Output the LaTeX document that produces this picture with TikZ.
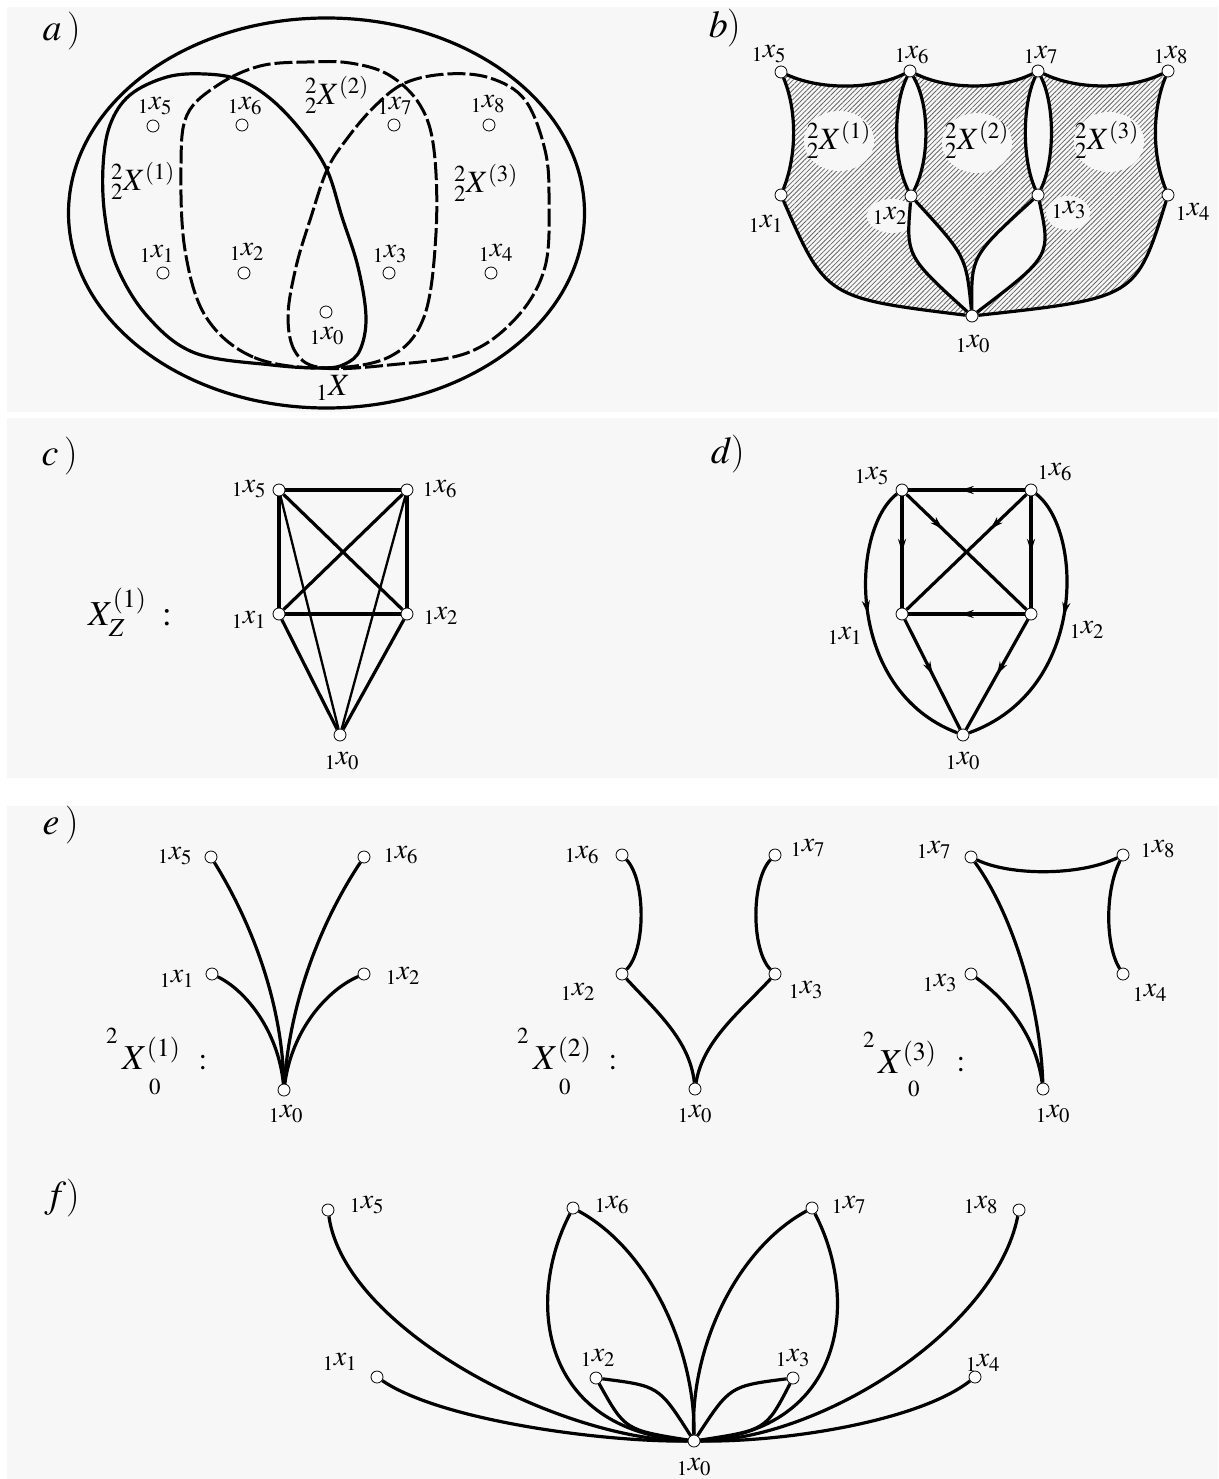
\documentclass[tikz,border=0pt]{standalone}
\usepackage{mathptmx}
\usepackage{amsmath}
\usetikzlibrary{patterns.meta,arrows.meta,decorations.markings}
\definecolor{bg}{HTML}{F7F7F7}
\pgfdeclarelayer{back}
\pgfdeclarelayer{mid}
\pgfsetlayers{back,mid,main}
\tikzset{
  vtx/.style={circle,draw,fill=white,inner sep=0pt,minimum size=12pt,line width=0.8pt},
  thk/.style={line width=3.2pt},
  thn/.style={line width=2.3pt},
  dsh/.style={line width=3pt,dash pattern=on 18pt off 4pt},
  lbl/.style={inner sep=0pt,font=\fontsize{28}{30}\selectfont},
  big/.style={inner sep=0pt,font=\fontsize{31}{33}\selectfont},
  huge/.style={inner sep=0pt,font=\fontsize{35}{37}\selectfont},
  plab/.style={inner sep=0pt,font=\fontsize{38}{40}\selectfont},
  arr/.style={postaction={decorate},decoration={markings,mark=at position #1 with {\arrow{Stealth[length=13pt,width=8pt]}}}},
  arr/.default=0.55,
  blob/.style={fill=bg}
}
\begin{document}
\begin{tikzpicture}[x=1pt,y=-1pt]
\begin{pgfonlayer}{back}
\fill[white] (0,0) rectangle (1218,1479);
\fill[bg] (7,7) rectangle (1218,412);
\fill[bg] (7,418) rectangle (1218,778);
\fill[bg] (7,806) rectangle (1218,1479);
\end{pgfonlayer}
\useasboundingbox (0,0) rectangle (1218,1479);

% ---------------- panel a ----------------
\node[plab] (pa) at (62,31) {$a$\,)};
\draw[thk] (326.5,213) ellipse [x radius=258pt, y radius=195pt];
\draw[thk] plot[smooth cycle, tension=0.6] coordinates {(323,368) (272,365) (195,353) (148,317) (117,267) (105,217) (103,167) (110,125) (130,95) (167,77) (205,74) (240,80) (272,100) (303,133) (327,170) (342,217) (358,267) (366,317) (360,350) (345,364)};
\draw[dsh] plot[smooth cycle, tension=0.6] coordinates {(323,368) (253,357) (206,317) (185,250) (181,167) (187,115) (218,85) (260,66) (307,62) (350,63) (389,75) (420,105) (434,150) (436,233) (424,317) (389,357)};
\draw[dsh] plot[smooth cycle, tension=0.6] coordinates {(323,368) (296,353) (288,317) (296,267) (311,217) (327,170) (346,140) (374,107) (405,83) (447,74) (490,78) (525,100) (545,150) (549,200) (545,267) (517,317) (467,353) (389,365)};
\node[vtx] (a5) at (153,126) {};
\node[vtx] (a6) at (242,125) {};
\node[vtx] (a7) at (394,125) {};
\node[vtx] (a8) at (489,125) {};
\node[vtx] (a1) at (163,273) {};
\node[vtx] (a2) at (244,273) {};
\node[vtx] (a3) at (389,273) {};
\node[vtx] (a4) at (491,273) {};
\node[vtx] (a0) at (326,312) {};
\node[lbl] (ta5) at (155,106) {${}_1x_5$};
\node[lbl] (ta6) at (245,106) {${}_1x_6$};
\node[lbl] (ta7) at (395,106) {${}_1x_7$};
\node[lbl] (ta8) at (488,104) {${}_1x_8$};
\node[lbl] (ta1) at (157,254) {${}_1x_1$};
\node[lbl] (ta2) at (247,252) {${}_1x_2$};
\node[lbl] (ta3) at (390,254) {${}_1x_3$};
\node[lbl] (ta4) at (496,253) {${}_1x_4$};
\node[lbl] (ta0) at (327,336) {${}_1x_0$};
\node[big] (tX1) at (143,181) {${}^2_2X^{(1)}$};
\node[big] (tX2) at (337,95) {${}^2_2X^{(2)}$};
\node[big] (tX3) at (486,183) {${}^2_2X^{(3)}$};
\node[big] (tX) at (333,388) {${}_1X$};

% ---------------- panel b ----------------
\node[plab] (pb) at (725,28) {$b$)};
\node[vtx] (b5) at (781,72) {};
\node[vtx] (b6) at (910,71) {};
\node[vtx] (b7) at (1038,71) {};
\node[vtx] (b8) at (1168,71) {};
\node[vtx] (b1) at (781,195) {};
\node[vtx] (b2) at (911,196) {};
\node[vtx] (b3) at (1038,195) {};
\node[vtx] (b4) at (1168,195) {};
\node[vtx] (b0) at (972,316) {};
\begin{pgfonlayer}{mid}
\fill[pattern={Lines[angle=45,distance=3.4pt,line width=0.8pt]},pattern color=black!60,even odd rule]
  (b5.center) .. controls (820,90) and (872,90) .. (b6.center) .. controls (948,90) and (1000,90) .. (b7.center)
  .. controls (1077,90) and (1129,90) .. (b8.center) .. controls (1152,110) and (1152,155) .. (b4.center)
  .. controls (1136,298) .. (b0.center) .. controls (826,298) .. (b1.center)
  .. controls (797,155) and (797,110) .. (b5.center) -- cycle
  (b6.center) .. controls (893,105) and (893,160) .. (b2.center) .. controls (930,160) and (930,105) .. (b6.center) -- cycle
  (b7.center) .. controls (1022,105) and (1022,160) .. (b3.center) .. controls (1055,160) and (1055,105) .. (b7.center) -- cycle
  (b2.center) .. controls (906,256) .. (b0.center) .. controls (966,256) .. (b2.center) -- cycle
  (b3.center) .. controls (971,256) .. (b0.center) .. controls (1051,256) .. (b3.center) -- cycle;
\fill[blob] (839,141) ellipse [x radius=35pt, y radius=30pt];
\fill[blob] (977,143) ellipse [x radius=35pt, y radius=30pt];
\fill[blob] (1109,142) ellipse [x radius=35pt, y radius=30pt];
\fill[blob] (892,216) ellipse [x radius=25pt, y radius=17pt];
\fill[blob] (1068,213) ellipse [x radius=22pt, y radius=17pt];
\end{pgfonlayer}
\draw[thk] (b5) .. controls (820,90) and (872,90) .. (b6);
\draw[thk] (b6) .. controls (948,90) and (1000,90) .. (b7);
\draw[thk] (b7) .. controls (1077,90) and (1129,90) .. (b8);
\draw[thk] (b8) .. controls (1152,110) and (1152,155) .. (b4);
\draw[thk] (b4) .. controls (1136,298) .. (b0);
\draw[thk] (b0) .. controls (826,298) .. (b1);
\draw[thk] (b1) .. controls (797,155) and (797,110) .. (b5);
\draw[thk] (b6) .. controls (893,105) and (893,160) .. (b2);
\draw[thk] (b6) .. controls (930,105) and (930,160) .. (b2);
\draw[thk] (b7) .. controls (1022,105) and (1022,160) .. (b3);
\draw[thk] (b7) .. controls (1055,105) and (1055,160) .. (b3);
\draw[thk] (b2) .. controls (906,256) .. (b0);
\draw[thk] (b2) .. controls (966,256) .. (b0);
\draw[thk] (b3) .. controls (971,256) .. (b0);
\draw[thk] (b3) .. controls (1051,256) .. (b0);
\node[lbl] (tb5) at (769,54) {${}_1x_5$};
\node[lbl] (tb6) at (912,55) {${}_1x_6$};
\node[lbl] (tb7) at (1041,55) {${}_1x_7$};
\node[lbl] (tb8) at (1171,55) {${}_1x_8$};
\node[lbl] (tb1) at (766,224) {${}_1x_1$};
\node[lbl] (tb2) at (890,216) {${}_1x_2$};
\node[lbl] (tb3) at (1069,210) {${}_1x_3$};
\node[lbl] (tb4) at (1193,212) {${}_1x_4$};
\node[lbl] (tb0) at (973,344) {${}_1x_0$};
\node[big] (tbX1) at (839,140) {${}^2_2X^{(1)}$};
\node[big] (tbX2) at (977,140) {${}^2_2X^{(2)}$};
\node[big] (tbX3) at (1107,140) {${}^2_2X^{(3)}$};

% ---------------- panel c ----------------
\node[plab] (pc) at (60,456) {$c$\,)};
\node[vtx] (c5) at (279,490) {};
\node[vtx] (c6) at (407,490) {};
\node[vtx] (c1) at (279,614) {};
\node[vtx] (c2) at (407,614) {};
\node[vtx] (c0) at (340,735) {};
\draw[thk] (c5) -- (c6);
\draw[thk] (c5) -- (c1);
\draw[thk] (c6) -- (c2);
\draw[thk] (c1) -- (c2);
\draw[thk] (c5) -- (c2);
\draw[thk] (c6) -- (c1);
\draw[thk] (c1) -- (c0);
\draw[thk] (c2) -- (c0);
\draw[thn] (c5) -- (c0);
\draw[thn] (c6) -- (c0);
\node[lbl] (tc5) at (249,489) {${}_1x_5$};
\node[lbl] (tc6) at (440,489) {${}_1x_6$};
\node[lbl] (tc1) at (249,620) {${}_1x_1$};
\node[lbl] (tc2) at (441,616) {${}_1x_2$};
\node[lbl] (tc0) at (342,761) {${}_1x_0$};
\node[huge] (tcX) at (130,612) {$X_Z^{(1)}\;:$};

% ---------------- panel d ----------------
\node[plab] (pd) at (728,454) {$d$)};
\node[vtx] (d5) at (902,490) {};
\node[vtx] (d6) at (1031,490) {};
\node[vtx] (d1) at (902,614) {};
\node[vtx] (d2) at (1031,614) {};
\node[vtx] (d0) at (963,735) {};
\draw[thk,arr=0.55] (d6) -- (d5);
\draw[thk,arr=0.55] (d2) -- (d1);
\draw[thk,arr=0.5] (d5) -- (d1);
\draw[thk,arr=0.5] (d6) -- (d2);
\draw[thk,arr=0.3] (d5) -- (d2);
\draw[thk,arr=0.3] (d6) -- (d1);
\draw[thk,arr=0.5] (d1) -- (d0);
\draw[thk,arr=0.5] (d2) -- (d0);
\draw[thk,arr=0.45] (d5) .. controls (850,530) and (845,690) .. (d0);
\draw[thk,arr=0.45] (d6) .. controls (1083,530) and (1088,690) .. (d0);
\node[lbl] (td5) at (872,476) {${}_1x_5$};
\node[lbl] (td6) at (1055,472) {${}_1x_6$};
\node[lbl] (td1) at (845,636) {${}_1x_1$};
\node[lbl] (td2) at (1087,630) {${}_1x_2$};
\node[lbl] (td0) at (963,761) {${}_1x_0$};

% ---------------- panel e ----------------
\node[plab] (pe) at (61,825) {$e$\,)};
% e1
\node[vtx] (p5) at (211,857) {};
\node[vtx] (p6) at (364,857) {};
\node[vtx] (p1) at (212,974) {};
\node[vtx] (p2) at (364,974) {};
\node[vtx] (p0) at (284,1090) {};
\draw[thk] (p5) .. controls (250,920) and (282,1000) .. (p0);
\draw[thk] (p6) .. controls (322,920) and (290,1000) .. (p0);
\draw[thk] (p1) .. controls (245,990) and (278,1030) .. (p0);
\draw[thk] (p2) .. controls (327,990) and (292,1030) .. (p0);
\node[lbl] (tp5) at (175,856) {${}_1x_5$};
\node[lbl] (tp6) at (401,855) {${}_1x_6$};
\node[lbl] (tp1) at (177,979) {${}_1x_1$};
\node[lbl] (tp2) at (403,976) {${}_1x_2$};
\node[lbl] (tp0) at (286,1114) {${}_1x_0$};
\node[big] (tp2s) at (112,1041) {$^{2}$};
\node[huge,anchor=west] (tpX) at (122,1053) {$X^{(1)}$};
\node[big] (tp0s) at (155,1087) {$_{0}$};
\node[big] (tpc) at (203,1063) {$:$};
% e2
\node[vtx] (q6) at (622,855) {};
\node[vtx] (q7) at (775,855) {};
\node[vtx] (q2) at (622,974) {};
\node[vtx] (q3) at (775,974) {};
\node[vtx] (q0) at (695,1089) {};
\draw[thk] (q6) .. controls (646,880) and (646,950) .. (q2);
\draw[thk] (q7) .. controls (751,880) and (751,950) .. (q3);
\draw[thk] (q2) .. controls (655,1010) and (690,1040) .. (q0);
\draw[thk] (q3) .. controls (742,1010) and (703,1040) .. (q0);
\node[lbl] (tq6) at (582,855) {${}_1x_6$};
\node[lbl] (tq7) at (808,848) {${}_1x_7$};
\node[lbl] (tq2) at (578,992) {${}_1x_2$};
\node[lbl] (tq3) at (806,990) {${}_1x_3$};
\node[lbl] (tq0) at (695,1114) {${}_1x_0$};
\node[big] (tq2s) at (523,1041) {$^{2}$};
\node[huge,anchor=west] (tqX) at (533,1053) {$X^{(2)}$};
\node[big] (tq0s) at (565,1087) {$_{0}$};
\node[big] (tqc) at (613,1063) {$:$};
% e3
\node[vtx] (r7) at (971,857) {};
\node[vtx] (r8) at (1123,855) {};
\node[vtx] (r3) at (971,974) {};
\node[vtx] (r4) at (1123,974) {};
\node[vtx] (r0) at (1043,1089) {};
\draw[thk] (r7) .. controls (1010,876) and (1080,876) .. (r8);
\draw[thk] (r8) .. controls (1105,890) and (1105,945) .. (r4);
\draw[thk] (r7) .. controls (1010,910) and (1040,1000) .. (r0);
\draw[thk] (r3) .. controls (1000,995) and (1035,1030) .. (r0);
\node[lbl] (tr7) at (934,850) {${}_1x_7$};
\node[lbl] (tr8) at (1158,849) {${}_1x_8$};
\node[lbl] (tr3) at (940,983) {${}_1x_3$};
\node[lbl] (tr4) at (1150,993) {${}_1x_4$};
\node[lbl] (tr0) at (1053,1114) {${}_1x_0$};
\node[big] (tr2s) at (869,1045) {$^{2}$};
\node[huge,anchor=west] (trX) at (878,1057) {$X^{(3)}$};
\node[big] (tr0s) at (914,1089) {$_{0}$};
\node[big] (trc) at (961,1065) {$:$};

% ---------------- panel f ----------------
\node[plab] (pf) at (62,1198) {$f$)};
\node[vtx] (f5) at (328,1210) {};
\node[vtx] (f6) at (573,1208) {};
\node[vtx] (f7) at (812,1208) {};
\node[vtx] (f8) at (1019,1210) {};
\node[vtx] (f1) at (377,1377) {};
\node[vtx] (f2) at (596,1378) {};
\node[vtx] (f3) at (793,1378) {};
\node[vtx] (f4) at (975,1377) {};
\node[vtx] (f0) at (694,1441) {};
\draw[thk] (f5) .. controls (345,1330) and (560,1440) .. (f0);
\draw[thk] (f1) .. controls (440,1420) and (600,1442) .. (f0);
\draw[thk] (f6) .. controls (525,1300) and (540,1430) .. (f0);
\draw[thk] (f6) .. controls (650,1250) and (695,1350) .. (f0);
\draw[thk] (f7) .. controls (735,1250) and (690,1350) .. (f0);
\draw[thk] (f7) .. controls (860,1300) and (845,1430) .. (f0);
\draw[thk] (f8) .. controls (995,1330) and (820,1440) .. (f0);
\draw[thk] (f4) .. controls (920,1420) and (790,1442) .. (f0);
\draw[thk] (f2) .. controls (659,1386) .. (f0);
\draw[thk] (f2) .. controls (625,1430) .. (f0);
\draw[thk] (f3) .. controls (730,1386) .. (f0);
\draw[thk] (f3) .. controls (766,1430) .. (f0);
\node[lbl] (tf5) at (367,1205) {${}_1x_5$};
\node[lbl] (tf6) at (612,1205) {${}_1x_6$};
\node[lbl] (tf7) at (849,1205) {${}_1x_7$};
\node[lbl] (tf8) at (981,1205) {${}_1x_8$};
\node[lbl] (tf1) at (340,1362) {${}_1x_1$};
\node[lbl] (tf2) at (598,1358) {${}_1x_2$};
\node[lbl] (tf3) at (793,1358) {${}_1x_3$};
\node[lbl] (tf4) at (983,1363) {${}_1x_4$};
\node[lbl] (tf0) at (694,1467) {${}_1x_0$};
\end{tikzpicture}
\end{document}
